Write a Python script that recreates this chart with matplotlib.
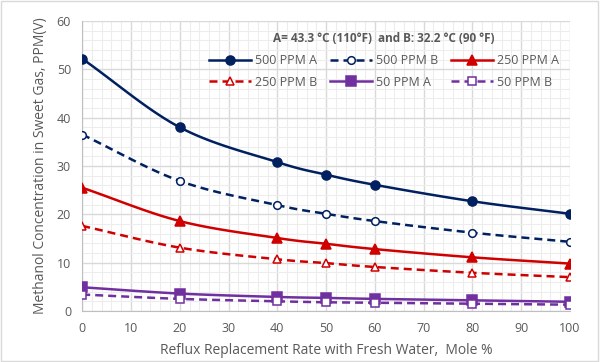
import numpy as np
import matplotlib
matplotlib.use("Agg")
import matplotlib.pyplot as plt
from matplotlib.ticker import MultipleLocator

plt.rcParams["font.family"] = ["Open Sans", "DejaVu Sans"]

rate = [0, 20, 40, 50, 60, 80, 100]
ppm500_a = [52.2, 38.0, 30.8, 28.2, 26.1, 22.7, 20.1]
ppm500_b = [36.5, 26.9, 21.9, 20.1, 18.6, 16.2, 14.3]
ppm250_a = [25.5, 18.6, 15.1, 13.9, 12.8, 11.1, 9.8]
ppm250_b = [17.6, 13.1, 10.7, 9.9, 9.1, 7.9, 7.0]
ppm50_a = [4.9, 3.6, 2.9, 2.7, 2.5, 2.2, 1.9]
ppm50_b = [3.4, 2.5, 2.0, 1.8, 1.7, 1.5, 1.3]

navy = "#002060"
red = "#D00000"
purple = "#7030A0"
gray = "#595959"


def smooth(x, y, n=20):
    # Catmull-Rom style smoothing, like Excel's smoothed line
    x = np.asarray(x, float)
    y = np.asarray(y, float)
    px = np.concatenate([[2 * x[0] - x[1]], x, [2 * x[-1] - x[-2]]])
    py = np.concatenate([[2 * y[0] - y[1]], y, [2 * y[-1] - y[-2]]])
    xs, ys = [], []
    t = np.linspace(0, 1, n)
    for i in range(1, len(px) - 2):
        c1x = px[i] + (px[i + 1] - px[i - 1]) / 6
        c1y = py[i] + (py[i + 1] - py[i - 1]) / 6
        c2x = px[i + 1] - (px[i + 2] - px[i]) / 6
        c2y = py[i + 1] - (py[i + 2] - py[i]) / 6
        bx = (1 - t) ** 3 * px[i] + 3 * (1 - t) ** 2 * t * c1x + 3 * (1 - t) * t ** 2 * c2x + t ** 3 * px[i + 1]
        by = (1 - t) ** 3 * py[i] + 3 * (1 - t) ** 2 * t * c1y + 3 * (1 - t) * t ** 2 * c2y + t ** 3 * py[i + 1]
        xs.extend(bx)
        ys.extend(by)
    return np.array(xs), np.array(ys)


fig = plt.figure(figsize=(6, 3.62), dpi=100)
ax = fig.add_axes([0.137, 0.141, 0.813, 0.801])

series = [
    (ppm500_a, "500 PPM A", navy, "-", "o", navy, 6.5),
    (ppm500_b, "500 PPM B", navy, "--", "o", "white", 5.5),
    (ppm250_a, "250 PPM A", red, "-", "^", red, 6.5),
    (ppm250_b, "250 PPM B", red, "--", "^", "white", 5.5),
    (ppm50_a, "50 PPM A", purple, "-", "s", purple, 6.5),
    (ppm50_b, "50 PPM B", purple, "--", "s", "white", 5.5),
]

handles = []
for vals, label, col, ls, mk, fc, ms in series:
    sx, sy = smooth(rate, vals)
    ax.plot(sx, sy, color=col, ls=ls, lw=1.8, dashes=(3.2, 2) if ls == "--" else (None, None), zorder=3)
    ax.plot(rate, vals, ls="none", marker=mk, ms=ms, mfc=fc, mec=col, mew=1.1, zorder=4)
    h, = ax.plot([], [], color=col, ls=ls, lw=1.8, marker=mk, ms=ms, mfc=fc, mec=col, mew=1.1, label=label)
    if ls == "--":
        h.set_dashes((3.2, 2))
    handles.append(h)

ax.set_xlim(0, 100)
ax.set_ylim(0, 60)
ax.xaxis.set_major_locator(MultipleLocator(10))
ax.yaxis.set_major_locator(MultipleLocator(10))
ax.xaxis.set_minor_locator(MultipleLocator(2))
ax.yaxis.set_minor_locator(MultipleLocator(2))
ax.grid(which="major", color="#D9D9D9", lw=1.0, zorder=0)
ax.grid(which="minor", color="#EDEDED", lw=0.8, zorder=0)
ax.set_axisbelow(True)
for s in ["top", "right"]:
    ax.spines[s].set_visible(False)
for s in ["left", "bottom"]:
    ax.spines[s].set_color("#BFBFBF")
ax.tick_params(which="both", length=0, labelsize=9, colors=gray, pad=8)

ax.set_xlabel("Reflux Replacement Rate with Fresh Water,  Mole %", fontsize=10, color=gray, labelpad=6)
ax.set_ylabel("Methanol Concentration in Sweet Gas, PPM(V)", fontsize=10, color=gray, labelpad=6)

# legend order row-wise: 3 columns
order = [0, 3, 1, 4, 2, 5]
leg = ax.legend([handles[i] for i in order], [handles[i].get_label() for i in order],
                ncol=3, frameon=False, fontsize=9, loc="upper right",
                bbox_to_anchor=(1.0, 1.0), handlelength=3.4, columnspacing=1.0,
                handletextpad=0.3, labelspacing=0.7,
                title=r"A= 43.3 °C (110°F)  and B: 32.2 °C (90 °F)",
                title_fontproperties={"weight": "bold", "size": 8.5})
leg.get_title().set_color(gray)
for t in leg.get_texts():
    t.set_color(gray)

fig.patches.append(plt.Rectangle((0.002, 0.003), 0.995, 0.994, transform=fig.transFigure,
                                 fill=False, ec="#D9D9D9", lw=1))

fig.savefig("out.png", dpi=100)
